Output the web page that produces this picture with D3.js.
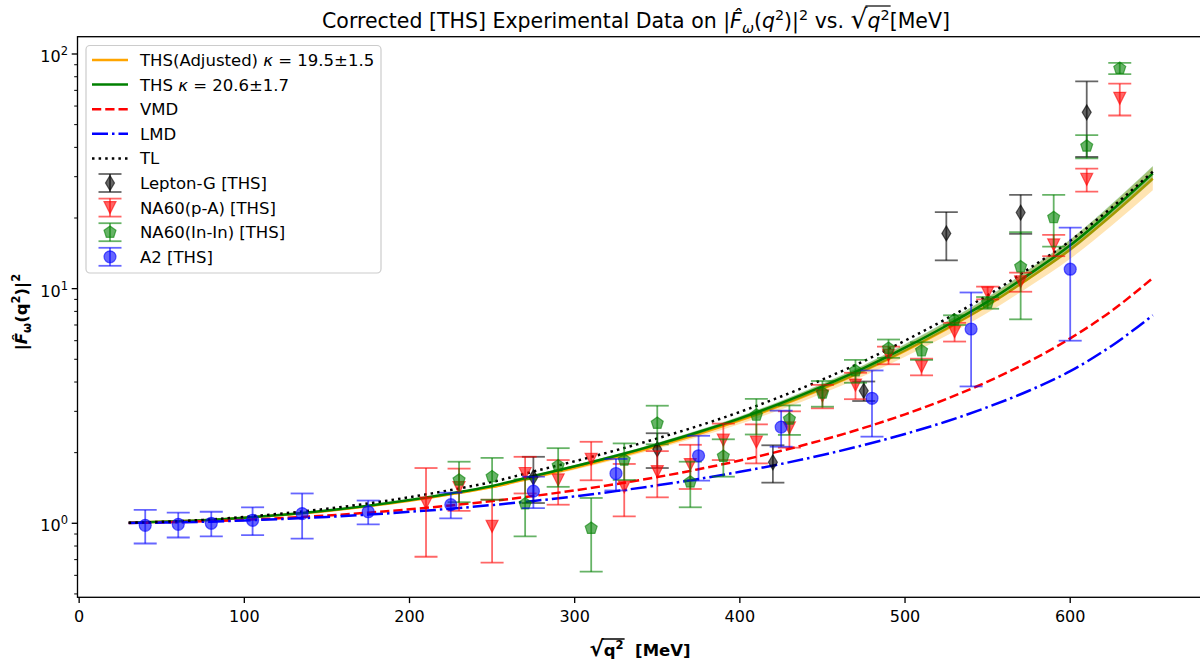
<!DOCTYPE html>
<html>
<head>
<meta charset="utf-8">
<script src="https://cdn.jsdelivr.net/npm/d3@7"></script>
<style>
  body { margin: 0; background: #fff; }
  text { font-family: "DejaVu Sans", sans-serif; fill: #000; white-space: pre; }
</style>
</head>
<body>
<div id="chart"></div>
<script>
// model curves, sampled along sqrt(q^2) in MeV
const qGrid = [30, 50, 75, 100, 125, 150, 175, 200, 225, 250, 275, 300, 325, 350, 375, 400, 425, 450, 475, 500, 525, 550, 575, 600, 625, 650];
const thsFit = [1.005, 1.014, 1.031, 1.057, 1.091, 1.134, 1.189, 1.257, 1.340, 1.442, 1.59, 1.75, 1.94, 2.17, 2.45, 2.80, 3.25, 3.83, 4.58, 5.6, 6.95, 8.8, 11.5, 15.3, 21.5, 31.0];
const thsLo = [1.005, 1.014, 1.030, 1.056, 1.089, 1.131, 1.185, 1.251, 1.332, 1.431, 1.575, 1.730, 1.913, 2.135, 2.404, 2.740, 3.170, 3.724, 4.436, 5.401, 6.673, 8.407, 10.92, 14.45, 20.16, 28.84];
const thsHi = [1.005, 1.014, 1.032, 1.058, 1.093, 1.137, 1.193, 1.263, 1.348, 1.453, 1.605, 1.771, 1.967, 2.206, 2.496, 2.861, 3.332, 3.940, 4.729, 5.806, 7.239, 9.211, 12.11, 16.20, 22.93, 33.32];
const adjFit = [1.005, 1.014, 1.030, 1.055, 1.088, 1.129, 1.182, 1.247, 1.328, 1.426, 1.567, 1.724, 1.909, 2.133, 2.401, 2.744, 3.179, 3.740, 4.463, 5.432, 6.725, 8.492, 11.06, 14.69, 20.53, 29.45];
const adjLo = [1.005, 1.013, 1.029, 1.053, 1.085, 1.124, 1.175, 1.238, 1.315, 1.409, 1.543, 1.692, 1.867, 2.079, 2.331, 2.651, 3.056, 3.576, 4.242, 5.128, 6.303, 7.896, 10.19, 13.41, 18.53, 26.25];
const adjHi = [1.005, 1.015, 1.031, 1.057, 1.091, 1.134, 1.189, 1.256, 1.341, 1.443, 1.591, 1.756, 1.951, 2.189, 2.474, 2.840, 3.306, 3.911, 4.696, 5.753, 7.175, 9.132, 12.00, 16.10, 22.75, 33.04];
const vmd = [1.003, 1.008, 1.019, 1.034, 1.054, 1.079, 1.110, 1.147, 1.192, 1.244, 1.307, 1.381, 1.469, 1.574, 1.700, 1.851, 2.036, 2.264, 2.550, 2.913, 3.386, 4.017, 4.886, 6.136, 8.03, 11.1];
const lmd = [1.002, 1.007, 1.015, 1.028, 1.044, 1.064, 1.089, 1.119, 1.154, 1.196, 1.245, 1.303, 1.371, 1.451, 1.545, 1.657, 1.791, 1.954, 2.155, 2.403, 2.715, 3.127, 3.672, 4.45, 5.7, 7.7];
const tl = [1.005, 1.014, 1.034, 1.065, 1.104, 1.153, 1.215, 1.292, 1.386, 1.500, 1.662, 1.838, 2.047, 2.300, 2.602, 2.982, 3.471, 4.098, 4.910, 6.003, 7.437, 9.372, 12.16, 15.99, 22.15, 31.5];

// data sets
const leptonX = [275, 350, 420, 475, 525, 570, 610];
const leptonY = [1.57, 2.07, 1.82, 3.67, 17.2, 21.1, 56.4];
const leptonErr = [0.35, 0.35, 0.33, 0.35, 4, 4, 20];

const paX = [210, 230, 250, 270, 290, 310, 330, 350, 370, 390, 410, 430, 450, 470, 490, 510, 530, 550, 570, 590, 610, 630];
const paY = [1.22, 1.42, 0.97, 1.63, 1.53, 1.875, 1.43, 1.66, 1.78, 2.26, 2.22, 2.55, 3.49, 3.88, 5.21, 4.65, 6.55, 9.6, 10.7, 15.35, 29.2, 64.7];
const paErr = [0.5, 0.29, 0.29, 0.29, 0.33, 0.35, 0.36, 0.37, 0.38, 0.4, 0.42, 0.45, 0.4, 0.5, 0.45, 0.38, 0.6, 0.6, 1.0, 1.6, 3.3, 10];

const inX = [230, 250, 270, 290, 310, 330, 350, 370, 390, 410, 430, 450, 470, 490, 510, 530, 550, 570, 590, 610, 630];
const inY = [1.53, 1.58, 1.21, 1.76, 0.952, 1.86, 2.67, 1.50, 1.93, 2.89, 2.78, 3.59, 4.47, 5.57, 5.44, 7.35, 8.71, 12.4, 20.1, 40.5, 86.9];
const inErr = [0.3, 0.32, 0.33, 0.33, 0.33, 0.33, 0.5, 0.33, 0.35, 0.5, 0.4, 0.45, 0.5, 0.5, 0.47, 0.35, 0.5, 5, 5, 4.6, 4.8];

const a2X = [40, 60, 80, 105, 135, 175, 225, 275, 325, 375, 425, 480, 540, 600];
const a2Y = [0.98, 0.99, 1.0, 1.03, 1.1, 1.12, 1.2, 1.37, 1.63, 1.94, 2.57, 3.41, 6.73, 12.1];
const a2Err = [0.16, 0.12, 0.12, 0.14, 0.24, 0.13, 0.15, 0.21, 0.25, 0.42, 0.45, 1.07, 2.9, 6.1];

const xTicks = [0, 100, 200, 300, 400, 500, 600];
const yTicks = [1, 10, 100];
const yTickExp = ["0", "1", "2"];

const width = 1200, height = 664;
const box = { left: 77.5, right: 1204, top: 36.7, bottom: 597.3 };

const svg = d3.select("#chart").append("svg")
  .attr("width", width).attr("height", height)
  .attr("viewBox", [0, 0, width, height]);
svg.append("rect").attr("width", width).attr("height", height).attr("fill", "#fff");

const x = d3.scaleLinear().domain([-1, 681]).range([box.left, box.right]);
const y = d3.scaleLog().domain([0.4837, 118.5]).range([box.bottom, box.top]);

svg.append("clipPath").attr("id", "plot")
  .append("rect").attr("x", box.left).attr("y", box.top)
  .attr("width", box.right - box.left).attr("height", box.bottom - box.top);

const plot = svg.append("g").attr("clip-path", "url(#plot)");

// bands and model lines
function band(lo, hi, color, op) {
  const area = d3.area().curve(d3.curveMonotoneX)
    .x((d, i) => x(qGrid[i])).y0((d, i) => y(lo[i])).y1((d, i) => y(hi[i]));
  plot.append("path").attr("d", area(qGrid)).attr("fill", color).attr("fill-opacity", op);
}
function curve(vals, color, dash, lw) {
  const line = d3.line().curve(d3.curveMonotoneX).x((d, i) => x(qGrid[i])).y((d, i) => y(vals[i]));
  plot.append("path").attr("d", line(qGrid)).attr("fill", "none")
    .attr("stroke", color).attr("stroke-width", lw || 2.5)
    .attr("stroke-dasharray", dash || null);
}

band(adjLo, adjHi, "orange", 0.3);
curve(adjFit, "orange");
band(thsLo, thsHi, "green", 0.35);
curve(thsFit, "green");
curve(vmd, "red", "9.25,4");
curve(lmd, "blue", "16,4,2.5,4");
curve(tl, "black", "2.5,4.1");

// markers
const markers = {
  diamond: "M0,-7.5L4.5,0L0,7.5L-4.5,0Z",
  tri: "M-6,-6L6,-6L0,6Z",
  pent: (() => {
    const p = d3.range(5).map(k => {
      const a = -Math.PI / 2 + k * 2 * Math.PI / 5;
      return [6.3 * Math.cos(a), 6.3 * Math.sin(a)];
    });
    return "M" + p.join("L") + "Z";
  })(),
  circle: d3.symbol(d3.symbolCircle, Math.PI * 36)()
};

function errorSeries(xs, ys, es, color, marker) {
  const g = plot.append("g");
  xs.forEach((q, i) => {
    const cx = x(q), y1 = y(ys[i] + es[i]), y0 = y(Math.max(ys[i] - es[i], 0.01));
    g.append("line").attr("x1", cx).attr("x2", cx).attr("y1", y0).attr("y2", y1)
      .attr("stroke", color).attr("stroke-opacity", 0.6).attr("stroke-width", 1.8);
    [y0, y1].forEach(cy => g.append("line")
      .attr("x1", cx - 11.5).attr("x2", cx + 11.5).attr("y1", cy).attr("y2", cy)
      .attr("stroke", color).attr("stroke-opacity", 0.6).attr("stroke-width", 1.8));
    g.append("path").attr("d", markers[marker])
      .attr("transform", `translate(${cx},${y(ys[i])})`)
      .attr("fill", color).attr("fill-opacity", 0.6)
      .attr("stroke", color).attr("stroke-opacity", 0.6).attr("stroke-width", 1.2);
  });
}

errorSeries(leptonX, leptonY, leptonErr, "black", "diamond");
errorSeries(paX, paY, paErr, "red", "tri");
errorSeries(inX, inY, inErr, "green", "pent");
errorSeries(a2X, a2Y, a2Err, "blue", "circle");

// frame
svg.append("rect").attr("x", box.left).attr("y", box.top)
  .attr("width", box.right - box.left).attr("height", box.bottom - box.top)
  .attr("fill", "none").attr("stroke", "#000").attr("stroke-width", 1.33);

// x ticks
xTicks.forEach(t => {
  svg.append("line").attr("x1", x(t)).attr("x2", x(t)).attr("y1", box.bottom).attr("y2", box.bottom + 5.8)
    .attr("stroke", "#000").attr("stroke-width", 1.33);
  svg.append("text").attr("x", x(t)).attr("y", 622).attr("text-anchor", "middle")
    .attr("font-size", 16).text(t);
});

// y ticks (log)
const minor = [];
[0.1, 1, 10].forEach(dec => d3.range(2, 10).forEach(m => {
  const v = dec * m;
  if (v > y.domain()[0] && v < y.domain()[1]) minor.push(v);
}));
minor.forEach(v => svg.append("line").attr("x1", box.left - 3.3).attr("x2", box.left)
  .attr("y1", y(v)).attr("y2", y(v)).attr("stroke", "#000").attr("stroke-width", 1));
yTicks.forEach((t, i) => {
  svg.append("line").attr("x1", box.left - 5.8).attr("x2", box.left).attr("y1", y(t)).attr("y2", y(t))
    .attr("stroke", "#000").attr("stroke-width", 1.33);
  const tx = svg.append("text").attr("x", 68).attr("y", y(t) + 8).attr("text-anchor", "end").attr("font-size", 16);
  tx.append("tspan").text("10");
  tx.append("tspan").attr("font-size", 11.5).attr("dy", -7).text(yTickExp[i]);
});

// rich text helper
function rich(parent, px, py, parts, size, anchor, weight) {
  const t = parent.append("text").attr("x", px).attr("y", py).attr("font-size", size)
    .attr("text-anchor", anchor || "start").attr("font-weight", weight || "normal");
  let shift = 0;
  parts.forEach(p => {
    const s = p.sup ? -0.4 * size : p.sub ? 0.22 * size : 0;
    const ts = t.append("tspan").attr("dy", s - shift).text(p.t);
    if (p.sup || p.sub) ts.attr("font-size", size * 0.7);
    if (p.big) ts.attr("font-size", size * p.big);
    if (p.it) ts.attr("font-style", "italic");
    shift = s;
    p.node = ts.node();
  });
  return t;
}
function overbar(parent, parts, from, to, lw) {
  const a = parts[from].node.getBBox(), b = parts[to].node.getBBox();
  const yy = a.y + 3;
  parent.append("line").attr("x1", a.x + a.width - 2).attr("x2", b.x + b.width + 1)
    .attr("y1", yy).attr("y2", yy).attr("stroke", "#000").attr("stroke-width", lw);
}

// title
const titleParts = [
  { t: "Corrected [THS] Experimental Data on |" },
  { t: "F\u0302", it: true }, { t: "ω", sub: true, it: true },
  { t: "(" }, { t: "q", it: true }, { t: "2", sup: true }, { t: ")|" }, { t: "2", sup: true },
  { t: " vs. " }, { t: "√", big: 1.3 }, { t: "q", it: true }, { t: "2", sup: true }, { t: "[MeV]" }
];
rich(svg, 636, 28, titleParts, 20.5, "middle");
overbar(svg, titleParts, 9, 11, 1.2);

// x label
const xlParts = [{ t: "√", big: 1.3 }, { t: "q" }, { t: "2", sup: true }, { t: "  [MeV]" }];
rich(svg, 640, 656, xlParts, 16.5, "middle", "bold");
overbar(svg, xlParts, 0, 2, 1.5);

// y label
const yl = svg.append("g").attr("transform", "translate(27,312) rotate(-90)");
rich(yl, 0, 0, [
  { t: "|" }, { t: "F\u0302", it: true }, { t: "ω", sub: true },
  { t: "(q" }, { t: "2", sup: true }, { t: ")|" }, { t: "2", sup: true }
], 16.5, "middle", "bold");

// legend
const lg = svg.append("g");
lg.append("rect").attr("x", 86).attr("y", 45.5).attr("width", 295).attr("height", 227.5).attr("rx", 4)
  .attr("fill", "#fff").attr("fill-opacity", 0.8).attr("stroke", "#cccccc").attr("stroke-width", 1.2);
const rowY = i => 60 + i * 24.6;
const legendLines = [
  { color: "orange", dash: null, parts: [{ t: "THS(Adjusted) " }, { t: "κ", it: true }, { t: " = 19.5±1.5" }] },
  { color: "green", dash: null, parts: [{ t: "THS " }, { t: "κ", it: true }, { t: " = 20.6±1.7" }] },
  { color: "red", dash: "9.25,4", parts: [{ t: "VMD" }] },
  { color: "blue", dash: "16,4,2.5,4", parts: [{ t: "LMD" }] },
  { color: "black", dash: "2.5,4.1", parts: [{ t: "TL" }] }
];
legendLines.forEach((d, i) => {
  lg.append("line").attr("x1", 92).attr("x2", 128).attr("y1", rowY(i)).attr("y2", rowY(i))
    .attr("stroke", d.color).attr("stroke-width", 2.5).attr("stroke-dasharray", d.dash);
  rich(lg, 140, rowY(i) + 6, d.parts, 16.5);
});
const legendPts = [
  { color: "black", marker: "diamond", label: "Lepton-G [THS]" },
  { color: "red", marker: "tri", label: "NA60(p-A) [THS]" },
  { color: "green", marker: "pent", label: "NA60(In-In) [THS]" },
  { color: "blue", marker: "circle", label: "A2 [THS]" }
];
legendPts.forEach((d, k) => {
  const cy = rowY(k + 5), cx = 110;
  lg.append("line").attr("x1", cx).attr("x2", cx).attr("y1", cy - 9).attr("y2", cy + 9)
    .attr("stroke", d.color).attr("stroke-opacity", 0.6).attr("stroke-width", 1.8);
  [cy - 9, cy + 9].forEach(c => lg.append("line").attr("x1", cx - 11.5).attr("x2", cx + 11.5)
    .attr("y1", c).attr("y2", c).attr("stroke", d.color).attr("stroke-opacity", 0.6).attr("stroke-width", 1.8));
  lg.append("path").attr("d", markers[d.marker]).attr("transform", `translate(${cx},${cy})`)
    .attr("fill", d.color).attr("fill-opacity", 0.6)
    .attr("stroke", d.color).attr("stroke-opacity", 0.6).attr("stroke-width", 1.2);
  lg.append("text").attr("x", 140).attr("y", cy + 6).attr("font-size", 16.5).text(d.label);
});
</script>
</body>
</html>
